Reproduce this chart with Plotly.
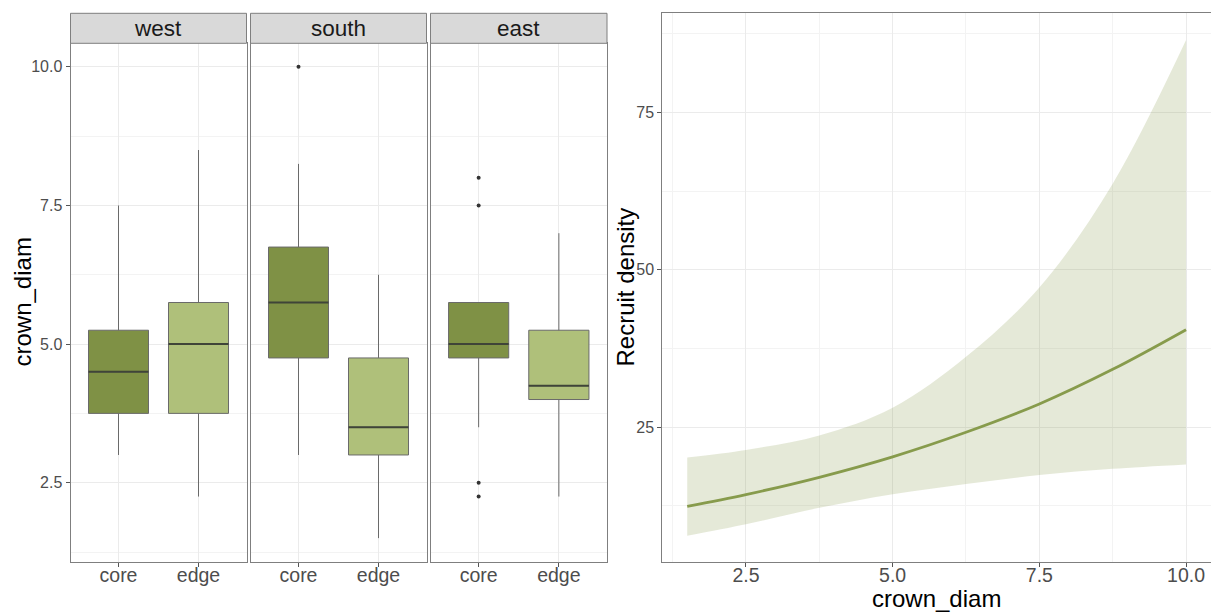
import plotly.graph_objects as go

# ---------------- data ----------------
regions = ["west", "south", "east"]
groups = ["core", "edge"]
# per region -> [core, edge]
box_q1 = [[3.75, 3.75], [4.75, 3.0], [4.75, 4.0]]
box_median = [[4.5, 5.0], [5.75, 3.5], [5.0, 4.25]]
box_q3 = [[5.25, 5.75], [6.75, 4.75], [5.75, 5.25]]
box_lower = [[3.0, 2.25], [3.0, 1.5], [3.5, 2.25]]
box_upper = [[7.5, 8.5], [8.25, 6.25], [5.75, 7.0]]

outlier_region = ["south", "east", "east", "east", "east"]
outlier_group = ["core", "core", "core", "core", "core"]
outlier_value = [10.0, 8.0, 7.5, 2.5, 2.25]

left_yticks = [2.5, 5.0, 7.5, 10.0]
left_yticklabels = ["2.5", "5.0", "7.5", "10.0"]

curve_x = [1.5, 2.5, 3.75, 5.0, 6.25, 7.5, 8.75, 10.0]
curve_fit = [12.44, 14.3, 17.05, 20.3, 24.2, 28.7, 34.2, 40.5]
curve_lower = [7.78, 9.6, 12.2, 14.35, 16.0, 17.4, 18.4, 19.1]
curve_upper = [20.2, 21.4, 23.7, 28.1, 36.2, 47.2, 63.7, 86.5]

right_xticks = [2.5, 5.0, 7.5, 10.0]
right_xticklabels = ["2.5", "5.0", "7.5", "10.0"]
right_yticks = [25, 50, 75]

# ---------------- styling ----------------
W, H = 1211, 613
FONT = "Liberation Sans, Arial, sans-serif"
GROUP_COLORS = {"core": "#7f9145", "edge": "#afc07a"}
LINE_COL = "#879b4c"
BAND_COL = "rgba(135,155,76,0.22)"
GRID = "#ebebeb"
MINOR = "#f3f3f3"
BORDER = "#7f7f7f"
TICKCOL = "#4d4d4d"
X_STANDOFF = -8

def fx(p):
    return p / W

def fy(p):
    return 1 - p / H

panels_x = [(70.5, 246.5), (250.5, 426.5), (430.5, 607.0)]
plot_top, plot_bot = 43.3, 561.7
strip_top = 13.3
right_x = (662.3, 1211.0)

fig = go.Figure()
gpos = {g: i + 1 for i, g in enumerate(groups)}

for ri, reg in enumerate(regions):
    xa = "x" if ri == 0 else f"x{ri+1}"
    ya = "y" if ri == 0 else f"y{ri+1}"
    for gi, g in enumerate(groups):
        fig.add_trace(go.Box(
            x=[gpos[g]], q1=[box_q1[ri][gi]], median=[box_median[ri][gi]],
            q3=[box_q3[ri][gi]], lowerfence=[box_lower[ri][gi]],
            upperfence=[box_upper[ri][gi]], width=0.75, whiskerwidth=0,
            fillcolor=GROUP_COLORS[g], line=dict(color="#6a6a6a", width=1),
            boxpoints=False, showlegend=False, xaxis=xa, yaxis=ya,
            hoverinfo="skip"))
        # thicker median line
        p = gpos[g]
        fig.add_trace(go.Scatter(
            x=[p - 0.375, p + 0.375], y=[box_median[ri][gi]] * 2,
            mode="lines", line=dict(color="#3f4438", width=2),
            showlegend=False, xaxis=xa, yaxis=ya, hoverinfo="skip"))
    ox = [gpos[g] for r, g in zip(outlier_region, outlier_group) if r == reg]
    oy = [v for r, v in zip(outlier_region, outlier_value) if r == reg]
    if ox:
        fig.add_trace(go.Scatter(
            x=ox, y=oy, mode="markers",
            marker=dict(color="#333333", size=4), showlegend=False,
            xaxis=xa, yaxis=ya, hoverinfo="skip"))

# right panel: band + line
fig.add_trace(go.Scatter(x=curve_x, y=curve_lower, mode="lines",
                         line=dict(width=0, shape="spline"),
                         showlegend=False, xaxis="x4", yaxis="y4", hoverinfo="skip"))
fig.add_trace(go.Scatter(x=curve_x, y=curve_upper, mode="lines",
                         line=dict(width=0, shape="spline"), fill="tonexty",
                         fillcolor=BAND_COL, showlegend=False,
                         xaxis="x4", yaxis="y4", hoverinfo="skip"))
fig.add_trace(go.Scatter(x=curve_x, y=curve_fit, mode="lines",
                         line=dict(color=LINE_COL, width=2.8, shape="spline"),
                         showlegend=False, xaxis="x4", yaxis="y4", hoverinfo="skip"))

layout = dict(
    width=W, height=H, margin=dict(l=0, r=0, t=0, b=0),
    paper_bgcolor="white", plot_bgcolor="white",
    font=dict(family=FONT, color=TICKCOL),
    showlegend=False,
)

ydom_left = [fy(plot_bot), fy(plot_top)]
for ri in range(3):
    xk = "xaxis" if ri == 0 else f"xaxis{ri+1}"
    yk = "yaxis" if ri == 0 else f"yaxis{ri+1}"
    a, b = panels_x[ri]
    layout[xk] = dict(
        domain=[fx(a), fx(b)], range=[0.4, 2.6], anchor="y" if ri == 0 else f"y{ri+1}",
        tickvals=[1, 2], ticktext=groups, showgrid=True, gridcolor=GRID, gridwidth=1,
        ticks="outside", ticklen=4, tickcolor="#555555", tickwidth=1,
        ticklabelstandoff=X_STANDOFF,
        tickfont=dict(size=19.5, color=TICKCOL, family=FONT),
        showline=True, mirror=True, linecolor=BORDER, linewidth=1, zeroline=False,
    )
    layout[yk] = dict(
        domain=ydom_left, range=[1.075, 10.425], anchor="x" if ri == 0 else f"x{ri+1}",
        tickvals=left_yticks, ticktext=left_yticklabels,
        showticklabels=(ri == 0), ticks="outside" if ri == 0 else "",
        ticklen=4, tickcolor="#555555", tickwidth=1,
        tickfont=dict(size=16, color=TICKCOL, family=FONT),
        showgrid=True, gridcolor=GRID, gridwidth=1,
        minor=dict(tickvals=[1.25, 3.75, 6.25, 8.75], showgrid=True,
                   gridcolor=MINOR, gridwidth=1, ticks=""),
        showline=True, mirror=True, linecolor=BORDER, linewidth=1, zeroline=False,
    )

layout["xaxis4"] = dict(
    domain=[fx(right_x[0]), fx(right_x[1])], range=[1.075, 10.425], anchor="y4",
    tickvals=right_xticks, ticktext=right_xticklabels,
    showgrid=True, gridcolor=GRID, gridwidth=1,
    minor=dict(tickvals=[1.25, 3.75, 6.25, 8.75], showgrid=True,
               gridcolor=MINOR, gridwidth=1, ticks=""),
    ticks="outside", ticklen=4, tickcolor="#555555", tickwidth=1,
    ticklabelstandoff=X_STANDOFF,
    tickfont=dict(size=19.5, color=TICKCOL, family=FONT),
    showline=True, mirror=True, linecolor=BORDER, linewidth=1, zeroline=False,
)
layout["yaxis4"] = dict(
    domain=[fy(plot_bot), fy(strip_top)], range=[3.64, 90.76], anchor="x4",
    tickvals=right_yticks, showgrid=True, gridcolor=GRID, gridwidth=1,
    minor=dict(tickvals=[12.5, 37.5, 62.5, 87.5], showgrid=True,
               gridcolor=MINOR, gridwidth=1, ticks=""),
    ticks="outside", ticklen=4, tickcolor="#555555", tickwidth=1,
    tickfont=dict(size=16, color=TICKCOL, family=FONT),
    showline=True, mirror=True, linecolor=BORDER, linewidth=1, zeroline=False,
)

shapes = []
annotations = []
for ri, reg in enumerate(regions):
    a, b = panels_x[ri]
    shapes.append(dict(type="rect", xref="paper", yref="paper",
                       x0=fx(a), x1=fx(b), y0=fy(plot_top), y1=fy(strip_top),
                       fillcolor="#d9d9d9", line=dict(color=BORDER, width=1),
                       layer="above"))
    annotations.append(dict(xref="paper", yref="paper", x=fx((a + b) / 2),
                            y=fy((plot_top + strip_top) / 2), text=reg,
                            showarrow=False, xanchor="center", yanchor="middle",
                            font=dict(size=22.5, color="#1a1a1a", family=FONT)))

annotations.append(dict(xref="paper", yref="paper", x=fx(22), y=fy((plot_top + plot_bot) / 2),
                        text="crown_diam", textangle=-90, showarrow=False,
                        xanchor="center", yanchor="middle",
                        font=dict(size=24, color="#000000", family=FONT)))
annotations.append(dict(xref="paper", yref="paper", x=fx(625), y=fy((strip_top + plot_bot) / 2),
                        text="Recruit density", textangle=-90, showarrow=False,
                        xanchor="center", yanchor="middle",
                        font=dict(size=24, color="#000000", family=FONT)))
annotations.append(dict(xref="paper", yref="paper", x=fx((right_x[0] + right_x[1]) / 2),
                        y=fy(598.5), text="crown_diam", showarrow=False,
                        xanchor="center", yanchor="middle",
                        font=dict(size=24, color="#000000", family=FONT)))

layout["shapes"] = shapes
layout["annotations"] = annotations
fig.update_layout(**layout)

fig.write_html("out.html", config={"displayModeBar": False},
               post_script="document.body.style.margin='0';document.body.style.overflow='hidden';")
